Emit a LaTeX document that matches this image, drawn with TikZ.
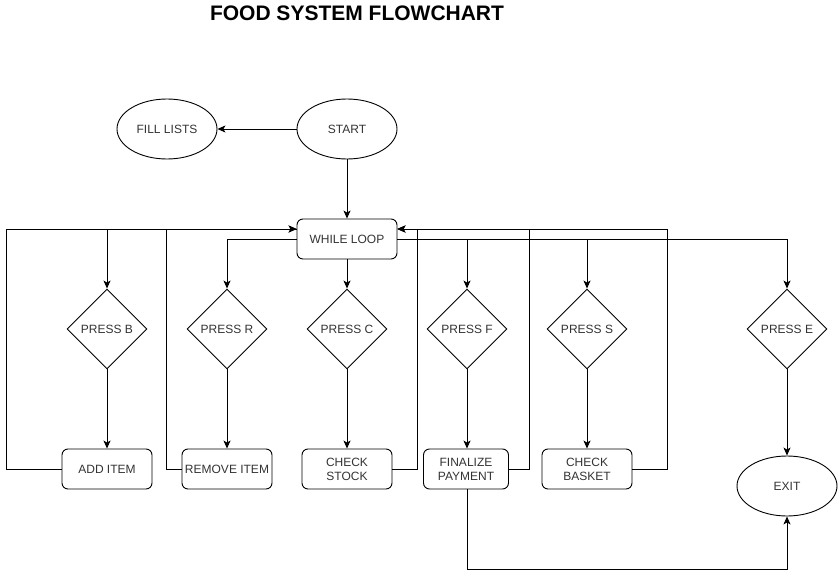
\documentclass[tikz,border=0pt]{standalone}
\usepackage{fontspec}
\setmainfont{Liberation Sans}
\usetikzlibrary{arrows.meta,positioning,shapes.geometric}

\begin{document}
\begin{tikzpicture}[x=1pt, y=-1pt, >={Stealth[length=8pt,width=7pt,inset=2pt]},
		every node/.style={font=\fontsize{12}{14}\selectfont, text=black!80},
		every path/.style={line width=0.9pt},
		stepbox/.style={draw, rounded corners=6pt, minimum width=90pt, minimum height=40pt, align=center, inner sep=1pt},
		choice/.style={draw, diamond, aspect=1, minimum width=80pt, minimum height=80pt, inner sep=0pt},
		ending/.style={draw, ellipse, minimum width=100pt, minimum height=60pt}]
	% Canvas
	\useasboundingbox (0,0) rectangle (838,578);

	% --- Title ---
	\node[font=\fontsize{21}{24}\selectfont\bfseries, text=black] (title) at (357,13) {FOOD SYSTEM FLOWCHART};

	% --- Start and loop ---
	\node[ending] (start) at (347,129) {START};
	\node[ending] (fill) at (167,129) {FILL LISTS};
	\node[stepbox, minimum width=100pt] (loop) at (347,239) {WHILE LOOP};
	\coordinate (inL) at ([yshift=10pt]loop.west);
	\coordinate (inR) at ([yshift=10pt]loop.east);

	% --- Keys (diamonds) ---
	% Format: name/x-position/letter
	\foreach \n/\x/\k in {pb/107/B, pr/227/R, pc/347/C, pf/467/F, ps/587/S, pe/787/E} {
			\node[choice] (\n) at (\x,329) {PRESS \k};
		}

	% --- Actions ---
	\node[stepbox] (add) at (107,469) {ADD ITEM};
	\node[stepbox] (remove) at (227,469) {REMOVE ITEM};
	\node[stepbox] (stock) at (347,469) {CHECK\\STOCK};
	\node[stepbox, minimum width=85pt] (pay) at (466,469) {FINALIZE\\PAYMENT};
	\node[stepbox] (basket) at (587,469) {CHECK\\BASKET};
	\node[ending] (exit) at (787,486) {EXIT};

	% --- Connectors ---
	\draw[->] (start) -- (fill);
	\draw[->] (start) -- (loop);
	\draw[->] (loop) -- (pc);
	\draw[->] (inL) -| (pb);
	\draw[->] (loop.west) -| (pr);
	\draw[->] (loop.east) -| (pf);
	\draw[->] (loop.east) -| (ps);
	\draw[->] (loop.east) -| (pe);

	% Key to action
	\foreach \a/\b in {pb/add, pr/remove, pc/stock, ps/basket, pe/exit} {
			\draw[->] (\a) -- (\b);
		}
	\draw[->] (pf) -- (pf |- pay.north);

	% Back to the loop
	\draw[->] (add.west) -- ++(-55,0) |- (inL);
	\draw[->] (remove.west) -- ++(-15,0) |- (inL);
	\draw[->] (stock.east) -- ++(25,0) |- (inR);
	\draw[->] (pay.east) -- ++(20,0) |- (inR);
	\draw[->] (basket.east) -- ++(35,0) |- (inR);

	% Payment ends the program
	\draw[->] (pf |- pay.south) -- ++(0,80) -| (exit.south);
\end{tikzpicture}
\end{document}
